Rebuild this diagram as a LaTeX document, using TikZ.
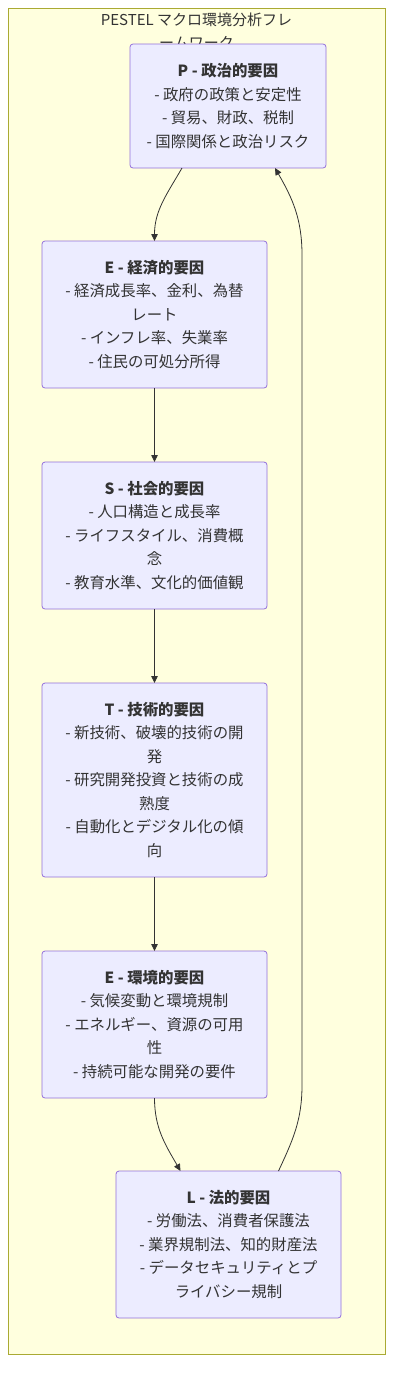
\documentclass[tikz,border=0pt]{standalone}
\usepackage{fontspec}
\setmainfont{Noto Sans CJK JP}
\usetikzlibrary{positioning,arrows.meta}
\definecolor{clusterfill}{HTML}{FFFFDE}
\definecolor{clusterline}{HTML}{AAAA33}
\definecolor{nodefill}{HTML}{ECECFF}
\definecolor{nodeline}{HTML}{9370DB}
\definecolor{ink}{HTML}{333333}

\begin{document}
\begin{tikzpicture}[x=1pt,y=1pt,>={Triangle[length=7pt,width=6.5pt]},
    factor/.style={draw=nodeline,fill=nodefill,rounded corners=3pt,align=center,text=ink,
      font=\fontsize{15.4pt}{23.5pt}\selectfont,minimum width=225pt,minimum height=147pt,
      inner sep=0pt,outer sep=0pt,line width=0.8pt},
    flow/.style={->,draw=ink,line width=0.8pt}]
    \useasboundingbox (0,0) rectangle (401,-1390);
    \draw[draw=clusterline,fill=clusterfill,line width=0.8pt] (8,-8) rectangle (385,-1354);
    \node[text=ink,align=center,font=\fontsize{15pt}{23pt}\selectfont] (title) at (196.5,-31.5)
        {PESTEL マクロ環境分析フレ\\ームワーク};
    \node[factor,minimum width=196pt,minimum height=124pt] (p) at (228,-106)
        {\textbf{P - 政治的要因}\\- 政府の政策と安定性\\- 貿易、財政、税制\\- 国際関係と政治リスク};
    \node[factor,below=73pt of p,xshift=-73.5pt] (e)
        {\textbf{E - 経済的要因}\\- 経済成長率、金利、為替\\レート\\- インフレ率、失業率\\- 住民の可処分所得};
    \node[factor,below=74pt of e] (s)
        {\textbf{S - 社会的要因}\\- 人口構造と成長率\\- ライフスタイル、消費概\\念\\- 教育水準、文化的価値観};
    \node[factor,minimum height=194pt,below=74pt of s] (t)
        {\textbf{T - 技術的要因}\\- 新技術、破壊的技術の開\\発\\- 研究開発投資と技術の成\\熟度\\- 自動化とデジタル化の傾\\向};
    \node[factor,below=74pt of t] (env)
        {\textbf{E - 環境的要因}\\- 気候変動と環境規制\\- エネルギー、資源の可用\\性\\- 持続可能な開発の要件};
    \node[factor,below=73pt of env,xshift=74pt] (l)
        {\textbf{L - 法的要因}\\- 労働法、消費者保護法\\- 業界規制法、知的財産法\\- データセキュリティとプ\\ライバシー規制};
    % cycle P -> E -> S -> T -> E -> L -> P
    \coordinate (rb) at (302,-1085);
    \coordinate (rt) at (302,-255);
    \draw[flow] ([xshift=-46pt]p.south) to[out=-120,in=90] (e.north);
    \draw[flow] (e) -- (s);
    \draw[flow] (s) -- (t);
    \draw[flow] (t) -- (env);
    \draw[flow] (env.south) to[out=-90,in=120] ([xshift=-48pt]l.north);
    \draw[flow] ([xshift=50pt]l.north) to[out=65,in=-90] (rb) -- (rt) to[out=90,in=-60] ([xshift=47pt]p.south);
\end{tikzpicture}
\end{document}
